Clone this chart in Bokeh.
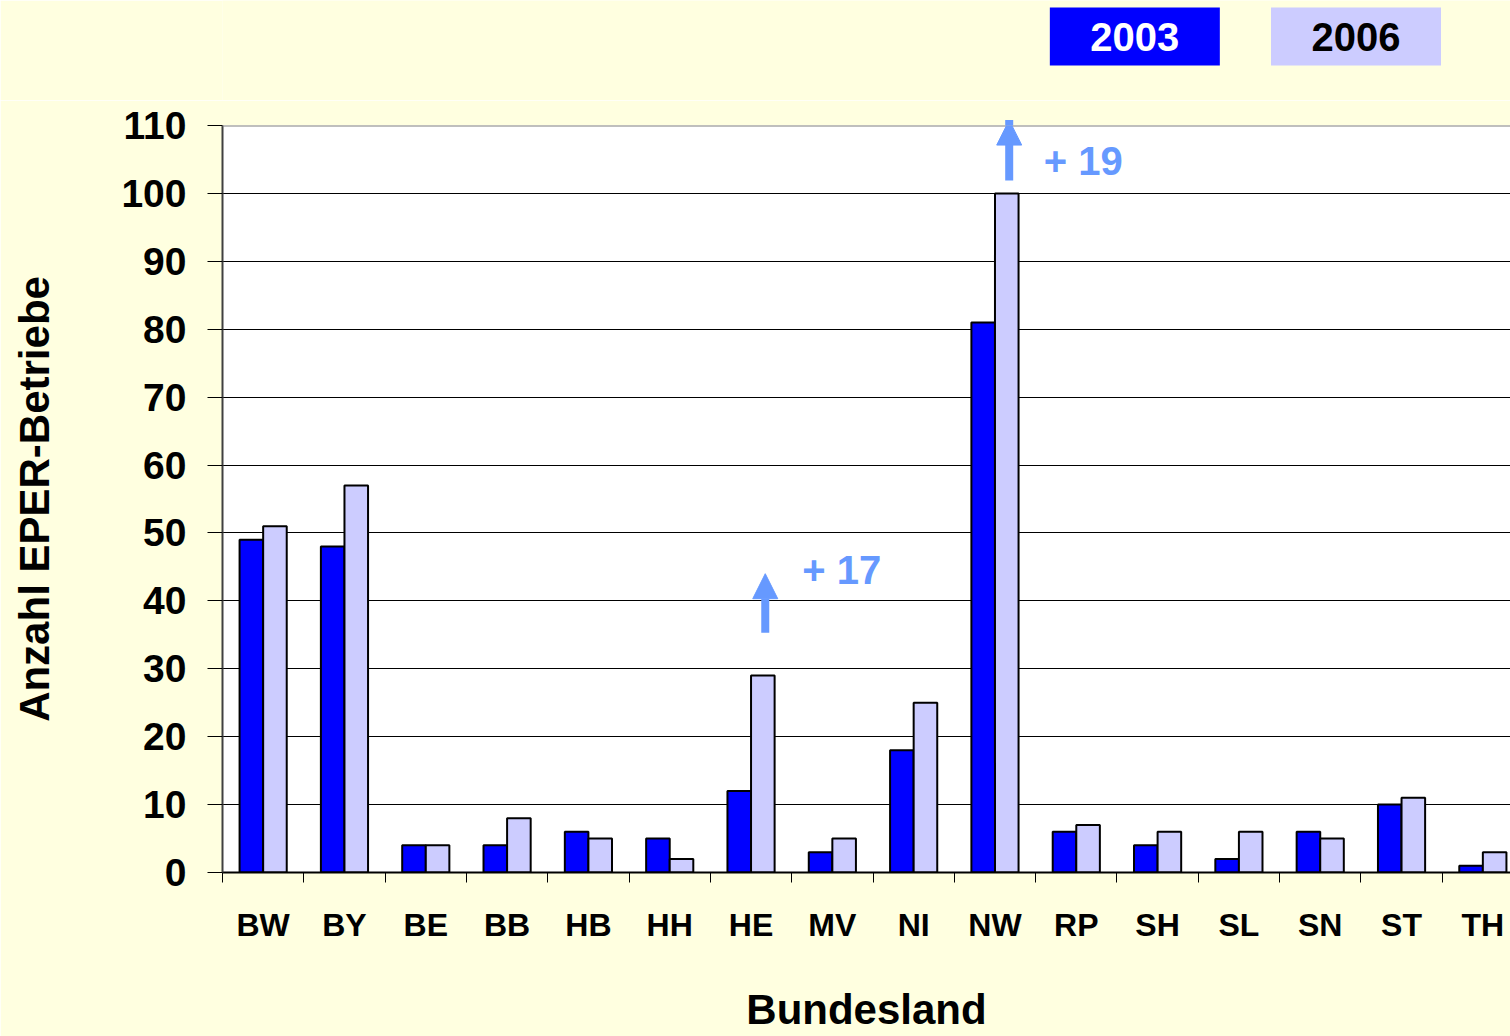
from bokeh.plotting import figure
from bokeh.layouts import column
from bokeh.models import (FixedTicker, Label, Arrow, NormalHead, ColumnDataSource,
                          Range1d, Span)
from bokeh.core.properties import value
from bokeh.embed import file_html
from bokeh.resources import INLINE

categories = ["BW", "BY", "BE", "BB", "HB", "HH", "HE", "MV", "NI", "NW",
              "RP", "SH", "SL", "SN", "ST", "TH"]
values_2003 = [49, 48, 4, 4, 6, 5, 12, 3, 18, 81, 6, 4, 2, 6, 10, 1]
values_2006 = [51, 57, 4, 8, 5, 2, 29, 5, 25, 100, 7, 6, 6, 5, 11, 3]
years = ["2003", "2006"]
y_ticks = [0, 10, 20, 30, 40, 50, 60, 70, 80, 90, 100, 110]
changes = [("HE", "+ 17"), ("NW", "+ 19")]

FONT = "Liberation Sans"
BLUE = "#0000FF"
LAV = "#CCCCFF"
ARROW = "#6699FF"
BG = "#FFFFE0"

n = len(categories)
centers = [i + 0.5 for i in range(n)]
off = 0.145
bw = 0.29
x_end = 15.84

# ---------- legend strip ----------
lg = figure(width=1510, height=100, output_backend="svg", toolbar_location=None,
            x_range=Range1d(0, x_end), y_range=Range1d(0, 100),
            min_border_left=222, min_border_right=0, min_border_top=0,
            min_border_bottom=0)
lg.background_fill_color = BG
lg.border_fill_color = BG
lg.outline_line_color = None
lg.axis.visible = False
lg.grid.grid_line_color = None
leg = ColumnDataSource(dict(x=[11.22, 13.94], y=[64, 64], label=years,
                            fill=[BLUE, LAV], tc=["white", "black"]))
lg.rect(x="x", y="y", width=170, height=58, width_units="screen",
        height_units="screen", fill_color="fill", line_color=None, source=leg)
lg.text(x="x", y="y", text="label", text_color="tc", text_align="center",
        text_baseline="middle", text_font=value(FONT), text_font_style="bold",
        text_font_size="40px", source=leg)

# ---------- main chart ----------
p = figure(width=1510, height=936, output_backend="svg", toolbar_location=None,
           x_range=Range1d(0, x_end), y_range=Range1d(0, y_ticks[-1]),
           min_border_left=222, min_border_right=0, min_border_top=25,
           min_border_bottom=164)
p.background_fill_color = "white"
p.border_fill_color = BG
p.outline_line_color = None
p.add_layout(Span(location=y_ticks[-1], dimension="width", line_color="#808080",
                  line_width=2))

src = ColumnDataSource(dict(
    x1=[c - off for c in centers], x2=[c + off for c in centers],
    v1=values_2003, v2=values_2006))
p.vbar(x="x1", top="v1", width=bw, source=src, fill_color=BLUE,
       line_color="black", line_width=2)
p.vbar(x="x2", top="v2", width=bw, source=src, fill_color=LAV,
       line_color="black", line_width=2)

p.yaxis.ticker = FixedTicker(ticks=y_ticks)
p.yaxis.major_label_text_font = FONT
p.yaxis.major_label_text_font_style = "bold"
p.yaxis.major_label_text_font_size = "39px"
p.yaxis.major_label_text_color = "black"
p.yaxis.major_tick_out = 15
p.yaxis.major_tick_in = 0
p.yaxis.major_tick_line_color = "black"
p.yaxis.minor_tick_line_color = None
p.yaxis.major_label_standoff = 21
p.yaxis.axis_line_color = "#404040"
p.yaxis.axis_line_width = 2
p.yaxis.axis_label = "Anzahl EPER-Betriebe"
p.yaxis.axis_label_text_font = FONT
p.yaxis.axis_label_text_font_style = "bold"
p.yaxis.axis_label_text_font_size = "42px"
p.yaxis.axis_label_text_color = "black"
p.yaxis.axis_label_standoff = 60

p.xaxis.ticker = FixedTicker(ticks=centers, minor_ticks=list(range(n + 1)))
p.xaxis.major_label_overrides = {c: cat for c, cat in zip(centers, categories)}
p.xaxis.major_label_text_font = FONT
p.xaxis.major_label_text_font_style = "bold"
p.xaxis.major_label_text_font_size = "32px"
p.xaxis.major_label_text_color = "black"
p.xaxis.major_tick_out = 0
p.xaxis.major_tick_in = 0
p.xaxis.minor_tick_out = 10
p.xaxis.minor_tick_in = 0
p.xaxis.minor_tick_line_color = "black"
p.xaxis.major_label_standoff = 24
p.xaxis.axis_line_color = "black"
p.xaxis.axis_line_width = 2
p.xaxis.axis_label = "Bundesland"
p.xaxis.axis_label_text_font = FONT
p.xaxis.axis_label_text_font_style = "bold"
p.xaxis.axis_label_text_font_size = "42px"
p.xaxis.axis_label_text_color = "black"
p.xaxis.axis_label_standoff = 40

p.xgrid.grid_line_color = None
p.ygrid.ticker = FixedTicker(ticks=y_ticks[1:-1])
p.ygrid.grid_line_color = "black"
p.ygrid.grid_line_width = 1

arrow_pos = {"HE": (35.3, 44.0), "NW": (101.9, 110.8)}
label_pos = {"HE": (7.13, 44.5), "NW": (10.1, 104.7)}
for cat, txt in changes:
    i = categories.index(cat)
    y0, y1 = arrow_pos[cat]
    xa = centers[i] + off + 0.03
    p.add_layout(Arrow(x_start=xa, y_start=y0, x_end=xa, y_end=y1,
                       line_color=ARROW, line_width=8,
                       end=NormalHead(size=25, fill_color=ARROW, line_color=ARROW)))
    lx, ly = label_pos[cat]
    p.add_layout(Label(x=lx, y=ly, text=txt, text_align="left",
                       text_baseline="middle", text_font=FONT,
                       text_font_style="bold", text_font_size="40px",
                       text_color=ARROW))

layout = column(lg, p, spacing=0)
open("out.html", "w").write(file_html(layout, INLINE))
